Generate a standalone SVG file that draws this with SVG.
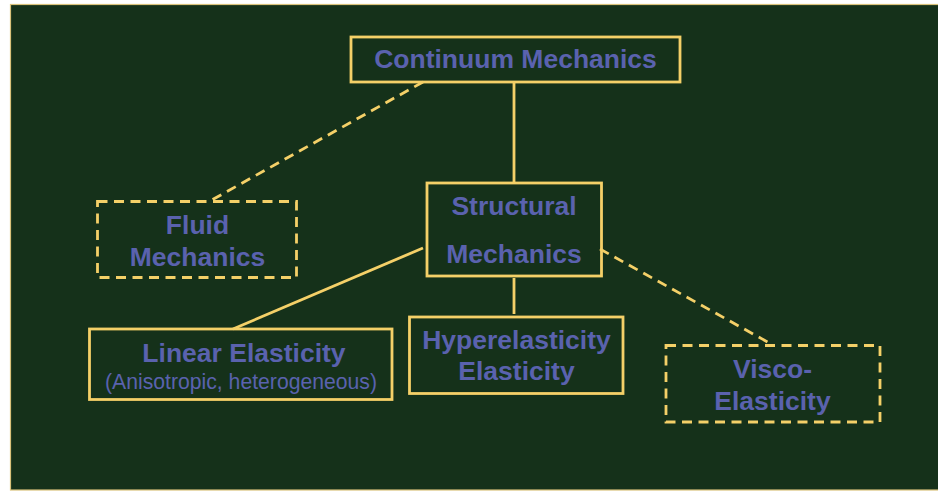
<svg xmlns="http://www.w3.org/2000/svg" width="938" height="491" viewBox="0 0 938 491">
<style>
.box{fill:none;stroke:#F4D068;stroke-width:2.8}
.dash{stroke-dasharray:10 6.5}
.ln{fill:none;stroke:#F4D068;stroke-width:2.8}
.t{font-family:"Liberation Sans",Arial,sans-serif;font-weight:bold;font-size:26.5px;fill:#5A62AE;text-anchor:middle}
.s{font-family:"Liberation Sans",Arial,sans-serif;font-size:21.2px;fill:#5A62AE;text-anchor:middle}
</style>
<rect x="0" y="0" width="938" height="491" fill="#ffffff"/>
<rect x="10.5" y="4.5" width="940" height="485.5" fill="#15311A" stroke="#D9C27A" stroke-width="1.2"/>
<g id="connectors">
<line class="ln" x1="514" y1="82" x2="514" y2="183"/>
<line class="ln dash" x1="423" y1="82" x2="210" y2="201"/>
<line class="ln" x1="514" y1="278" x2="514" y2="314"/>
<line class="ln" x1="423" y1="248" x2="233" y2="329"/>
<line class="ln dash" x1="600" y1="249" x2="773" y2="345"/>
</g>
<g id="continuum">
<rect class="box" x="351" y="37" width="329" height="45"/>
<text class="t" x="515.5" y="68">Continuum Mechanics</text>
</g>
<g id="structural">
<rect class="box" x="427" y="183" width="174.5" height="93"/>
<text class="t" x="514" y="215">Structural</text>
<text class="t" x="514" y="262.5">Mechanics</text>
</g>
<g id="fluid">
<rect class="box dash" x="97.5" y="201.5" width="199" height="76"/>
<text class="t" x="197.5" y="234">Fluid</text>
<text class="t" x="197.5" y="266">Mechanics</text>
</g>
<g id="linear">
<rect class="box" x="89.5" y="329" width="302.5" height="70.5"/>
<text class="t" x="244" y="362">Linear Elasticity</text>
<text class="s" x="241" y="388.5">(Anisotropic, heterogeneous)</text>
</g>
<g id="hyper">
<rect class="box" x="409.5" y="317" width="213.5" height="76.5"/>
<text class="t" x="516.5" y="348.5">Hyperelasticity</text>
<text class="t" x="516.5" y="380">Elasticity</text>
</g>
<g id="visco">
<rect class="box dash" x="666" y="345.5" width="214" height="76.5"/>
<text class="t" x="772.5" y="377.5">Visco-</text>
<text class="t" x="772.5" y="409.5">Elasticity</text>
</g>
</svg>
